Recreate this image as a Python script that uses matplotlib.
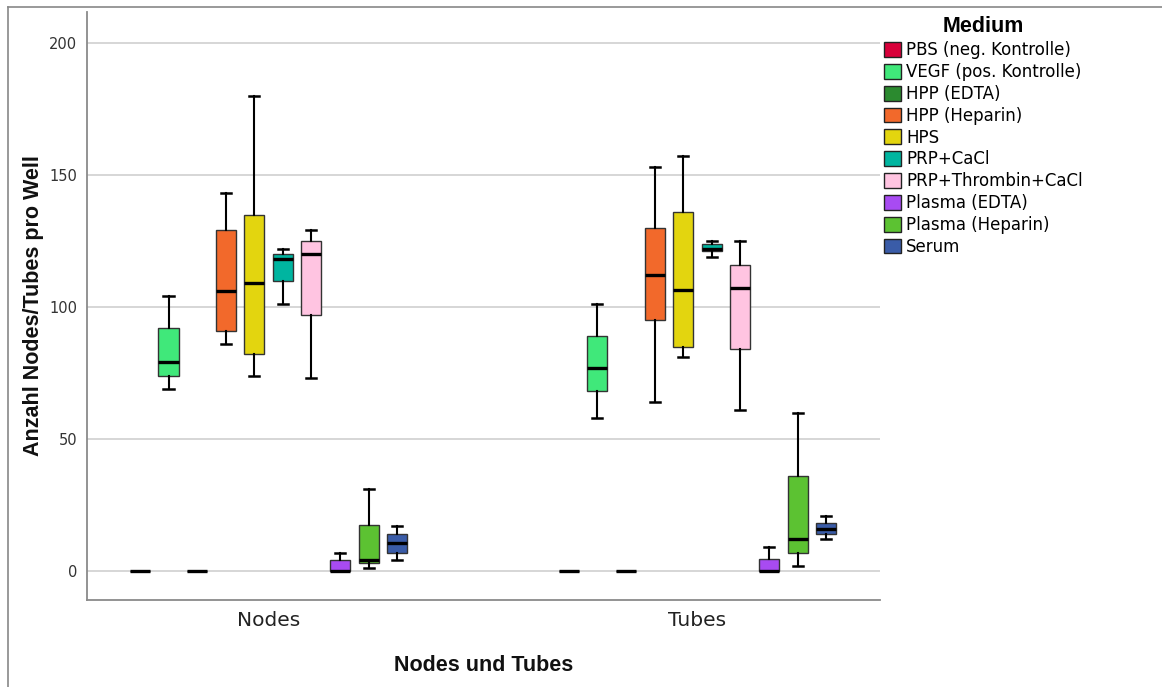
import matplotlib
matplotlib.use("Agg")
import matplotlib.pyplot as plt
from matplotlib.patches import Patch
from matplotlib.lines import Line2D

groups = ["Nodes", "Tubes"]
media = ["PBS (neg. Kontrolle)", "VEGF (pos. Kontrolle)", "HPP (EDTA)", "HPP (Heparin)",
         "HPS", "PRP+CaCl", "PRP+Thrombin+CaCl", "Plasma (EDTA)", "Plasma (Heparin)", "Serum"]
colors = ["#D8003A", "#40E87A", "#2B8A2F", "#F2692B", "#E3D50F",
          "#00B5A0", "#FFC4E1", "#A84BF2", "#5CC232", "#3A5CA8"]

# five-number summaries per medium: whisker low, Q1, median, Q3, whisker high
nodes_whislo = [0, 69, 0, 86, 74, 101, 73, 0, 1, 4]
nodes_q1     = [0, 74, 0, 91, 82, 110, 97, 0, 3, 7]
nodes_med    = [0, 79, 0, 106, 109, 118, 120, 0, 4, 10.5]
nodes_q3     = [0, 92, 0, 129, 135, 120, 125, 4, 17.5, 14]
nodes_whishi = [0, 104, 0, 143, 180, 122, 129, 7, 31, 17]

tubes_whislo = [0, 58, 0, 64, 81, 119, 61, 0, 2, 12]
tubes_q1     = [0, 68, 0, 95, 85, 121, 84, 0, 7, 14]
tubes_med    = [0, 77, 0, 112, 106.5, 122, 107, 0, 12, 16]
tubes_q3     = [0, 89, 0, 130, 136, 124, 116, 4.5, 36, 18]
tubes_whishi = [0, 101, 0, 153, 157, 125, 125, 9, 60, 21]

yticks = [0, 50, 100, 150, 200]

fig = plt.figure(figsize=(11.62, 6.87), dpi=100)
ax = fig.add_axes([87/1162, 1-600/687, (880-87)/1162, (600-12)/687])

group_data = [
    (nodes_whislo, nodes_q1, nodes_med, nodes_q3, nodes_whishi),
    (tubes_whislo, tubes_q1, tubes_med, tubes_q3, tubes_whishi),
]
group_centers = [0, 15]
n = len(media)
for gc, (wl, q1, md, q3, wh) in zip(group_centers, group_data):
    stats = []
    for i in range(n):
        stats.append(dict(whislo=wl[i], q1=q1[i], med=md[i], q3=q3[i], whishi=wh[i], fliers=[]))
    positions = [gc + (i - (n - 1) / 2) for i in range(n)]
    b = ax.bxp(stats, positions=positions, widths=0.7, patch_artist=True, showfliers=False,
               capwidths=0.35,
               boxprops=dict(edgecolor="#333333", linewidth=1.0),
               medianprops=dict(color="black", linewidth=2.4, solid_capstyle="butt"),
               whiskerprops=dict(color="black", linewidth=1.5),
               capprops=dict(color="black", linewidth=1.8),
               manage_ticks=False, zorder=3)
    for patch, c in zip(b["boxes"], colors):
        patch.set_facecolor(c)

ax.set_xlim(-6.35, 21.38)
ax.set_ylim(-10.98, 211.7)
ax.set_yticks(yticks)
ax.set_yticklabels([str(t) for t in yticks])
ax.set_xticks(group_centers)
ax.set_xticklabels(groups)
ax.yaxis.grid(True, color="#cfcfcf", linewidth=1.2, zorder=0)
ax.set_axisbelow(True)
for s in ["top", "right"]:
    ax.spines[s].set_visible(False)
for s in ["left", "bottom"]:
    ax.spines[s].set_color("#8a8a8a")
    ax.spines[s].set_linewidth(1.3)
ax.tick_params(axis="y", length=0, pad=7, labelsize=10.5, labelcolor="#333333")
ax.tick_params(axis="x", length=0, pad=8, labelsize=14.5, labelcolor="#222222")
for lab in ax.get_yticklabels() + ax.get_xticklabels():
    lab.set_fontfamily("DejaVu Sans")

ax.set_xlabel("Nodes und Tubes", fontfamily="Liberation Sans", fontweight="bold",
              fontsize=15.5, labelpad=18, color="#111111")
ax.set_ylabel("Anzahl Nodes/Tubes pro Well", fontfamily="Liberation Sans", fontweight="bold",
              fontsize=15.5, color="#111111")
ax.yaxis.set_label_coords(-0.054, 0.5)

handles = [Patch(facecolor=c, edgecolor="#222222", linewidth=1.0) for c in colors]
leg = fig.legend(handles, media, loc="upper left", bbox_to_anchor=(881/1162, 1-13/687),
                 frameon=False, title="Medium",
                 prop=dict(family="DejaVu Sans", size=12),
                 title_fontproperties=dict(family="Liberation Sans", weight="bold", size=15.5),
                 handlelength=1.0, handleheight=1.0, handletextpad=0.3,
                 labelspacing=0.23, borderpad=0.2, borderaxespad=0)
leg._legend_box.align = "center"

# outer frame (left and top edges)
fig.add_artist(Line2D([8/1162, 8/1162], [0, 1-7/687], transform=fig.transFigure,
                      color="#888888", linewidth=1.2))
fig.add_artist(Line2D([8/1162, 1], [1-7/687, 1-7/687], transform=fig.transFigure,
                      color="#888888", linewidth=1.2))

fig.savefig("out.png", dpi=100)
